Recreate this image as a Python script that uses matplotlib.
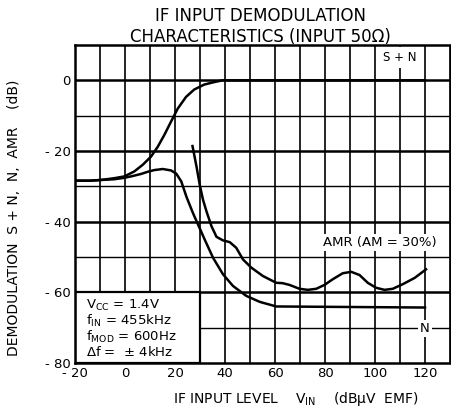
import numpy as np
import matplotlib.pyplot as plt
from matplotlib.patches import Rectangle

plt.rcParams['font.family'] = ['DejaVu Sans']

# S + N curve
sn_x = [-20, -14, -9.6, -4.3, -0.3, 3.7, 7.1, 10.4, 13.1, 15.7, 18.4, 21.1, 24.4, 27.7, 31.7, 35.7, 39, 120]
sn_y = [-28.4, -28.4, -28.2, -27.7, -27.2, -25.8, -23.9, -21.6, -18.8, -15.5, -11.7, -8.0, -4.7, -2.6, -1.2, -0.5, 0, 0]

# N curve
n_x = [-20, -14, -9.6, -4.3, -0.3, 3, 6.4, 9, 11.7, 15.1, 18.4, 20.5, 22.5, 24.6, 27.2, 29.2, 31.9, 35.2,
       39.2, 43.2, 48.5, 53.9, 60.5, 120]
n_y = [-28.4, -28.4, -28.2, -28.0, -27.6, -27.1, -26.5, -25.9, -25.4, -25.1, -25.5, -26.4, -28.6, -33.0, -37.6,
       -40.8, -45.1, -50.2, -54.9, -58.2, -61.0, -62.7, -64.0, -64.3]

# AMR curve
amr_x = [27, 28.6, 29.9, 31.2, 32.6, 34.6, 36.6, 39.2, 41.9, 44.5, 47.2, 50.5, 55.2, 60.5, 63, 65.8, 69.8,
         73.1, 76.5, 79.8, 83.1, 87.1, 90.5, 93.8, 97.1, 100.4, 103.8, 107.1, 111.1, 115.9, 120.4]
amr_y = [-18.6, -24.4, -29.6, -33.8, -37.1, -41.3, -44.3, -45.3, -45.8, -47.4, -50.7, -53.0, -55.4, -57.3,
         -57.4, -57.9, -59.0, -59.3, -59.0, -57.9, -56.3, -54.6, -54.2, -55.1, -57.3, -58.7, -59.3, -59.0,
         -57.7, -55.9, -53.5]

x_ticks = [-20, 0, 20, 40, 60, 80, 100, 120]
x_tick_labels = ['- 20', '0', '20', '40', '60', '80', '100', '120']
y_ticks = [-80, -60, -40, -20, 0]
y_tick_labels = ['- 80', '- 60', '- 40', '- 20', '0']

fig = plt.figure(figsize=(4.51, 4.15), dpi=100)
ax = fig.add_axes([0.1663, 0.1253, 0.8315, 0.7663])
ax.set_xlim(-20, 130)
ax.set_ylim(-80, 10)

# grid
for gx in range(-10, 131, 10):
    ax.axvline(gx, color='black', lw=1.2, zorder=1)
for gy in range(-70, 10, 10):
    ax.axhline(gy, color='black', lw=1.8 if gy % 20 == 0 else 1.0, zorder=1)

ax.plot(sn_x, sn_y, color='black', lw=1.8, zorder=3)
ax.plot(n_x, n_y, color='black', lw=1.8, zorder=3)
ax.plot(amr_x, amr_y, color='black', lw=1.8, zorder=3)

# condition box
ax.add_patch(Rectangle((-20, -80), 50, 20, facecolor='white', edgecolor='black', lw=1.6, zorder=2))
ax.text(-15.5, -61.5, '$\\mathregular{V_{CC}}$ = 1.4V\n$\\mathregular{f_{IN}}$ = 455kHz\n'
        '$\\mathregular{f_{MOD}}$ = 600Hz\n$\\mathregular{\\Delta f}$ =  ± 4kHz',
        fontsize=9.5, va='top', ha='left', linespacing=1.0, zorder=4)

ax.text(110, 6.5, 'S + N', fontsize=8.5, ha='center', va='center', zorder=4,
        bbox=dict(facecolor='white', edgecolor='none', pad=3))
ax.text(102, -46, 'AMR (AM = 30%)', fontsize=9.5, ha='center', va='center', zorder=4,
        bbox=dict(facecolor='white', edgecolor='none', pad=1.5))
ax.text(120, -70.3, 'N', fontsize=9.5, ha='center', va='center', zorder=4,
        bbox=dict(facecolor='white', edgecolor='none', pad=1.5))

ax.set_xticks(x_ticks)
ax.set_xticklabels(x_tick_labels, fontsize=9.5)
ax.set_yticks(y_ticks)
ax.set_yticklabels(y_tick_labels, fontsize=9.5)
ax.tick_params(length=0, pad=3)
for s in ['left', 'bottom', 'top']:
    ax.spines[s].set_linewidth(1.8)
ax.spines['right'].set_linewidth(1.0)

fig.text(0.577, 0.962, 'IF INPUT DEMODULATION', fontsize=12, ha='center', va='center')
fig.text(0.577, 0.912, 'CHARACTERISTICS (INPUT 50Ω)', fontsize=12, ha='center', va='center')
ax.set_xlabel('IF INPUT LEVEL    $\\mathregular{V_{IN}}$    (dB$\\mathregular{\\mu}$V  EMF)', fontsize=10)
ax.xaxis.set_label_coords(0.59, -0.085)
ax.set_ylabel('DEMODULATION  S + N,  N,  AMR    (dB)', fontsize=10)
ax.yaxis.set_label_coords(-0.145, 0.455)

fig.savefig('out.png', dpi=100)
